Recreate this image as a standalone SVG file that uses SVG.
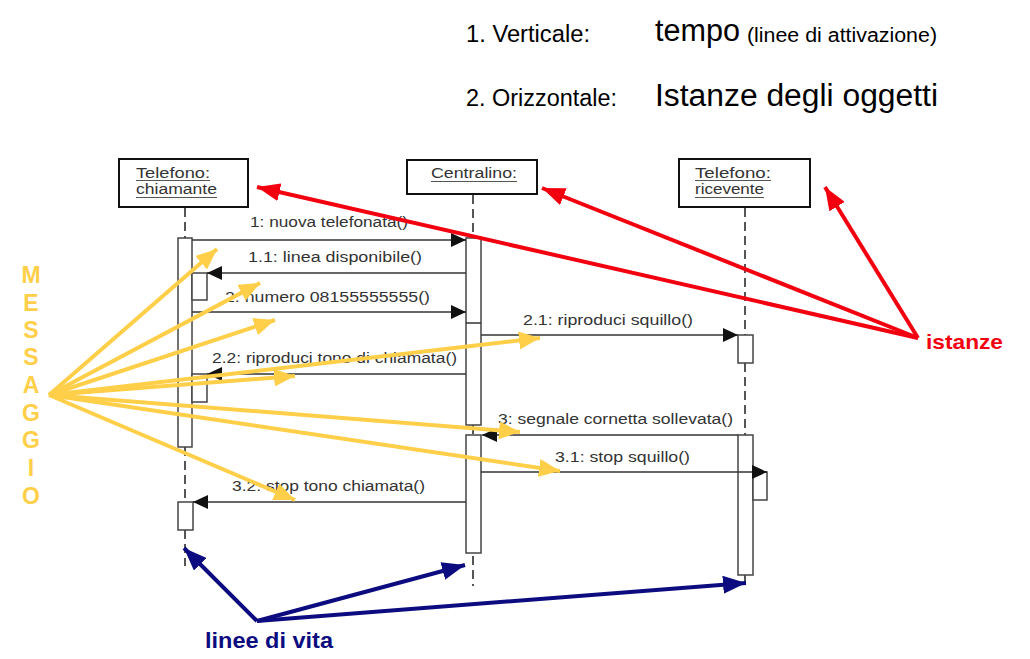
<svg xmlns="http://www.w3.org/2000/svg" width="1030" height="659" viewBox="0 0 1030 659">
<defs>
<style>
.hdr{font-family:"Liberation Sans",Arial,sans-serif;fill:#000}
.box{fill:#fff;stroke:#111;stroke-width:2}
.lbl{font-family:"Liberation Sans",Arial,sans-serif;font-size:14px;fill:#333}
.ul{stroke:#555;stroke-width:1}
.life{stroke:#555;stroke-width:2;stroke-dasharray:9 5;fill:none}
.bar{fill:#fff;stroke:#444;stroke-width:1.5}
.msg{stroke:#333;stroke-width:1.5;fill:none}
.ya{stroke:#FFCF4A;stroke-width:4;fill:none}
.ra{stroke:#F2000F;stroke-width:4;fill:none}
.ba{stroke:#0C0C80;stroke-width:4;fill:none}
.mess{font-family:"Liberation Sans",Arial,sans-serif;font-weight:bold;font-size:23px;fill:#FFCF4A}
</style>
<marker id="mk" markerUnits="userSpaceOnUse" markerWidth="16" markerHeight="14" refX="15" refY="7" orient="auto"><path d="M0,0 L15,7 L0,14 z" fill="#111"/></marker>
<marker id="my" markerUnits="userSpaceOnUse" markerWidth="22" markerHeight="18" refX="21" refY="9" orient="auto"><path d="M0,0 L21,9 L0,18 z" fill="#FFCF4A"/></marker>
<marker id="mr" markerUnits="userSpaceOnUse" markerWidth="24" markerHeight="18" refX="23" refY="9" orient="auto"><path d="M0,0 L23,9 L0,18 z" fill="#F2000F"/></marker>
<marker id="mb" markerUnits="userSpaceOnUse" markerWidth="24" markerHeight="18" refX="23" refY="9" orient="auto"><path d="M0,0 L23,9 L0,18 z" fill="#0C0C80"/></marker>
</defs>
<rect width="1030" height="659" fill="#fff"/>

<g id="title">
<text class="hdr" x="466" y="42" font-size="23" textLength="124" lengthAdjust="spacingAndGlyphs">1. Verticale:</text>
<text class="hdr" x="655" y="41" font-size="31" textLength="85" lengthAdjust="spacingAndGlyphs">tempo</text>
<text class="hdr" x="747" y="42" font-size="20" textLength="190" lengthAdjust="spacingAndGlyphs">(linee di attivazione)</text>
<text class="hdr" x="466" y="106" font-size="23" textLength="151" lengthAdjust="spacingAndGlyphs">2. Orizzontale:</text>
<text class="hdr" x="655" y="106" font-size="31" textLength="283" lengthAdjust="spacingAndGlyphs">Istanze degli oggetti</text>
</g>

<g id="lifelines">
<line class="life" x1="185" y1="208" x2="185" y2="238"/>
<line class="life" x1="185" y1="447" x2="185" y2="502"/>
<line class="life" x1="185" y1="530" x2="185" y2="566"/>
<line class="life" x1="473" y1="195" x2="473" y2="238"/>
<line class="life" x1="473" y1="425" x2="473" y2="435"/>
<line class="life" x1="473" y1="556" x2="473" y2="586"/>
<line class="life" x1="745" y1="208" x2="745" y2="335"/>
<line class="life" x1="745" y1="363" x2="745" y2="435"/>
<line class="life" x1="745" y1="575" x2="745" y2="586"/>
</g>

<g id="node-chiamante">
<rect class="box" x="119" y="159" width="129" height="48"/>
<text class="lbl" x="136" y="178" textLength="74" lengthAdjust="spacingAndGlyphs">Telefono:</text>
<line class="ul" x1="136" y1="180.5" x2="210" y2="180.5"/>
<text class="lbl" x="136" y="194" textLength="81" lengthAdjust="spacingAndGlyphs">chiamante</text>
<line class="ul" x1="136" y1="197.5" x2="217" y2="197.5"/>
</g>
<g id="node-centralino">
<rect class="box" x="407" y="160" width="130" height="34"/>
<text class="lbl" x="431" y="178" textLength="86" lengthAdjust="spacingAndGlyphs">Centralino:</text>
<line class="ul" x1="431" y1="181.5" x2="517" y2="181.5"/>
</g>
<g id="node-ricevente">
<rect class="box" x="679" y="159" width="131" height="48"/>
<text class="lbl" x="695" y="178" textLength="76" lengthAdjust="spacingAndGlyphs">Telefono:</text>
<line class="ul" x1="695" y1="180.5" x2="771" y2="180.5"/>
<text class="lbl" x="695" y="194" textLength="69" lengthAdjust="spacingAndGlyphs">ricevente</text>
<line class="ul" x1="695" y1="197.5" x2="764" y2="197.5"/>
</g>

<g id="activations">
<rect class="bar" x="178" y="238" width="14" height="209"/>
<rect class="bar" x="192" y="273" width="15" height="27"/>
<rect class="bar" x="192" y="374" width="15" height="28"/>
<rect class="bar" x="178" y="502" width="15" height="28"/>
<rect class="bar" x="466" y="238" width="15" height="187"/>
<line class="msg" x1="466" y1="323" x2="481" y2="323"/>
<rect class="bar" x="466" y="435" width="15" height="118"/>
<rect class="bar" x="738" y="335" width="15" height="28"/>
<rect class="bar" x="738" y="435" width="15" height="140"/>
<rect class="bar" x="753" y="472" width="14" height="28"/>
</g>

<g id="messages">
<line class="msg" x1="192" y1="240" x2="466" y2="240" marker-end="url(#mk)"/>
<text class="lbl" x="250" y="227" textLength="158" lengthAdjust="spacingAndGlyphs">1: nuova telefonata()</text>
<line class="msg" x1="466" y1="273" x2="207" y2="273" marker-end="url(#mk)"/>
<text class="lbl" x="248" y="262" textLength="174" lengthAdjust="spacingAndGlyphs">1.1: linea disponibile()</text>
<line class="msg" x1="192" y1="312" x2="466" y2="312" marker-end="url(#mk)"/>
<text class="lbl" x="225" y="302" textLength="205" lengthAdjust="spacingAndGlyphs">2: numero 08155555555()</text>
<line class="msg" x1="481" y1="335" x2="738" y2="335" marker-end="url(#mk)"/>
<text class="lbl" x="523" y="325" textLength="170" lengthAdjust="spacingAndGlyphs">2.1: riproduci squillo()</text>
<line class="msg" x1="466" y1="374" x2="207" y2="374" marker-end="url(#mk)"/>
<text class="lbl" x="212" y="363" textLength="245" lengthAdjust="spacingAndGlyphs">2.2: riproduci tono di chiamata()</text>
<line class="msg" x1="738" y1="435" x2="482" y2="435" marker-end="url(#mk)"/>
<text class="lbl" x="498" y="424" textLength="235" lengthAdjust="spacingAndGlyphs">3: segnale cornetta sollevata()</text>
<line class="msg" x1="481" y1="472" x2="767" y2="472" marker-end="url(#mk)"/>
<text class="lbl" x="555" y="462" textLength="135" lengthAdjust="spacingAndGlyphs">3.1: stop squillo()</text>
<line class="msg" x1="466" y1="502" x2="193" y2="502" marker-end="url(#mk)"/>
<text class="lbl" x="232" y="491" textLength="193" lengthAdjust="spacingAndGlyphs">3.2: stop tono chiamata()</text>
</g>

<g id="label-messaggio">
<text class="mess" text-anchor="middle" x="31" y="283">M</text>
<text class="mess" text-anchor="middle" x="31" y="311">E</text>
<text class="mess" text-anchor="middle" x="31" y="338">S</text>
<text class="mess" text-anchor="middle" x="31" y="365">S</text>
<text class="mess" text-anchor="middle" x="31" y="393">A</text>
<text class="mess" text-anchor="middle" x="31" y="421">G</text>
<text class="mess" text-anchor="middle" x="31" y="448">G</text>
<text class="mess" text-anchor="middle" x="31" y="476">I</text>
<text class="mess" text-anchor="middle" x="31" y="504">O</text>
</g>

<g id="label-istanze">
<text x="926" y="349" font-family="Liberation Sans, Arial, sans-serif" font-weight="bold" font-size="21" fill="#F2000F" textLength="77" lengthAdjust="spacingAndGlyphs">istanze</text>
</g>

<g id="label-linee-di-vita">
<text x="205" y="648" font-family="Liberation Sans, Arial, sans-serif" font-weight="bold" font-size="22" fill="#0C0C80" textLength="128" lengthAdjust="spacingAndGlyphs">linee di vita</text>
</g>

<g id="connectors">
<line class="ya" x1="49" y1="395" x2="217" y2="249" marker-end="url(#my)"/>
<line class="ya" x1="49" y1="395" x2="260" y2="283" marker-end="url(#my)"/>
<line class="ya" x1="49" y1="395" x2="275" y2="320" marker-end="url(#my)"/>
<line class="ya" x1="49" y1="395" x2="540" y2="338" marker-end="url(#my)"/>
<line class="ya" x1="49" y1="395" x2="295" y2="376" marker-end="url(#my)"/>
<line class="ya" x1="49" y1="395" x2="520" y2="432" marker-end="url(#my)"/>
<line class="ya" x1="49" y1="395" x2="560" y2="471" marker-end="url(#my)"/>
<line class="ya" x1="49" y1="395" x2="295" y2="500" marker-end="url(#my)"/>
<line class="ra" x1="918" y1="338" x2="257" y2="187" marker-end="url(#mr)"/>
<line class="ra" x1="918" y1="338" x2="542" y2="188" marker-end="url(#mr)"/>
<line class="ra" x1="918" y1="338" x2="825" y2="187" marker-end="url(#mr)"/>
<line class="ba" x1="257" y1="621" x2="184" y2="548" marker-end="url(#mb)"/>
<line class="ba" x1="257" y1="621" x2="465" y2="565" marker-end="url(#mb)"/>
<line class="ba" x1="257" y1="621" x2="746" y2="583" marker-end="url(#mb)"/>
</g>
</svg>
